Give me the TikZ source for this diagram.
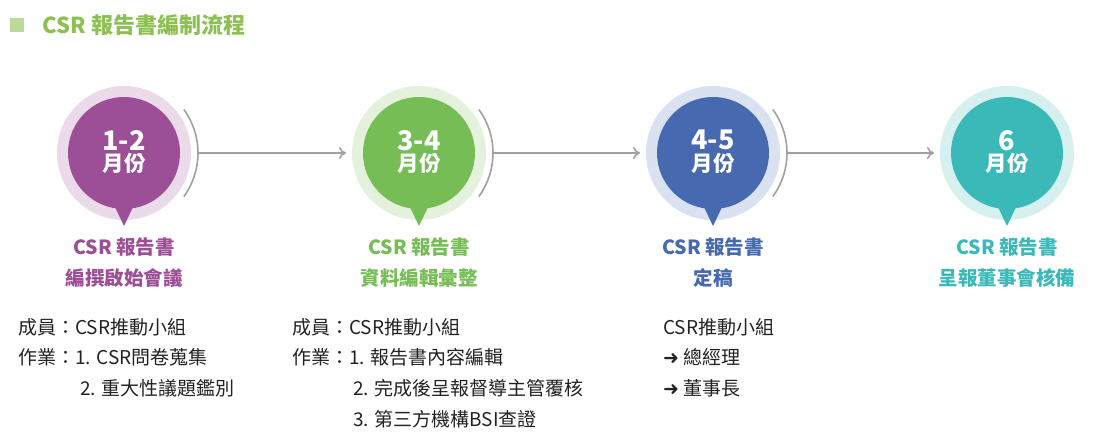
\documentclass[tikz,border=0pt]{standalone}
\usepackage{fontspec}
\setmainfont{Noto Sans CJK TC}
\newfontfamily\symf{DejaVu Sans}
\usetikzlibrary{arrows.meta}
\definecolor{cA}{HTML}{9C4F96}\definecolor{hA}{HTML}{EBDAEA}
\definecolor{cB}{HTML}{76BD55}\definecolor{hB}{HTML}{E4F2DD}
\definecolor{cC}{HTML}{4769B0}\definecolor{hC}{HTML}{DAE1F0}
\definecolor{cD}{HTML}{3BB9B9}\definecolor{hD}{HTML}{D6EFEF}
\definecolor{ttl}{HTML}{8CC152}\definecolor{txt}{HTML}{222222}
\definecolor{ln}{HTML}{A0A0A0}
\begin{document}
\begin{tikzpicture}[x=1pt,y=-1pt,
  lbl/.style={font=\fontsize{19.5}{31}\selectfont\bfseries,align=center,anchor=north},
  body/.style={font=\fontsize{19}{22}\selectfont,text=txt,anchor=west,inner sep=0},
  conn/.style={ln,line width=1.6pt,-{To[length=7pt,width=12pt,line width=1.6pt]}}]
\useasboundingbox (0,0) rectangle (1100,446);
\fill[ttl!60] (10,18) rectangle (24,32);
\node[anchor=west,text=ttl,font=\fontsize{22}{26}\selectfont\bfseries] (title) at (39,25) {CSR 報告書編制流程};
\foreach \n/\x/\c/\h/\t in {a/124/cA/hA/1-2,b/419/cB/hB/3-4,c/713/cC/hC/4-5,d/1007/cD/hD/6}{
  \fill[\h] (\x,153) circle (67);
  \fill[\c] (\x,153) circle (56);
  \fill[\c] (\x-10,205) -- (\x,226) -- (\x+10,205) -- cycle;
  \node[text=white,align=center,font=\bfseries] (\n) at (\x,152)
    {{\fontsize{27}{30}\selectfont \t}\\[2pt]{\fontsize{21.5}{26}\selectfont 月份}};
  \coordinate (\n-t) at (\x,153);
}
\foreach \x in {124,419,713}{
  \draw[ln,line width=1.6pt] (\x,153) ++(-36:74) arc (-36:36:74);
}
\path (a-t) ++(74,0) coordinate (ae);
\path (b-t) ++(74,0) coordinate (be);
\path (c-t) ++(74,0) coordinate (ce);
\path (b-t) ++(-73,0) coordinate (bs);
\path (c-t) ++(-73,0) coordinate (cs);
\path (d-t) ++(-73,0) coordinate (ds);
\draw[conn] (ae) -- (bs);
\draw[conn] (be) -- (cs);
\draw[conn] (ce) -- (ds);
\node[lbl,text=cA] (la) at (124,234) {CSR 報告書\\編撰啟始會議};
\node[lbl,text=cB] (lb) at (419,234) {CSR 報告書\\資料編輯彙整};
\node[lbl,text=cC] (lc) at (713,234) {CSR 報告書\\定稿};
\node[lbl,text=cD] (ld) at (1007,234) {CSR 報告書\\呈報董事會核備};
\node[body] (a1) at (18,327) {成員：CSR推動小組};
\node[body] (a2) at (18,357) {作業：1. CSR問卷蒐集};
\node[body] (a3) at (80,388) {2. 重大性議題鑑別};
\node[body] (b1) at (292,327) {成員：CSR推動小組};
\node[body] (b2) at (292,357) {作業：1. 報告書內容編輯};
\node[body] (b3) at (353,388) {2. 完成後呈報督導主管覆核};
\node[body] (b4) at (353,419) {3. 第三方機構BSI查證};
\node[body] (c1) at (663,327) {CSR推動小組};
\node[body] (c2) at (663,357) {{\symf\bfseries ➜} 總經理};
\node[body] (c3) at (663,388) {{\symf\bfseries ➜} 董事長};
\end{tikzpicture}
\end{document}
